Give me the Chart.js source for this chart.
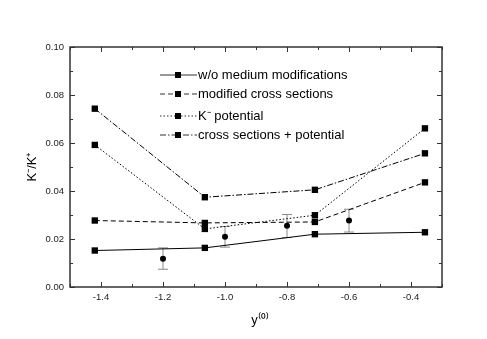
<!DOCTYPE html>
<html>
<head>
<meta charset="utf-8">
<script src="https://cdn.jsdelivr.net/npm/chart.js@4"></script>
<style>
  body { margin: 0; background: #fff; }
  #wrap { width: 487px; height: 339px; }
</style>
</head>
<body>
<div id="wrap"><canvas id="ratioChart"></canvas></div>
<script>
// model rapidity bins
var modelX = [-1.42, -1.065, -0.71, -0.355];
var noMedium = [0.0152, 0.0163, 0.0220, 0.0228];
var crossSec = [0.0277, 0.0267, 0.0271, 0.0436];
var kPotential = [0.0592, 0.0242, 0.0299, 0.0661];
var crossPot = [0.0743, 0.0374, 0.0405, 0.0557];

// data points with error bars
var dataX = [-1.2, -1.0, -0.8, -0.6];
var dataY = [0.0118, 0.0209, 0.0255, 0.0277];
var dataLo = [0.0074, 0.0166, 0.0206, 0.0229];
var dataHi = [0.0163, 0.0252, 0.0302, 0.0324];

var xTicks = [-1.4, -1.2, -1.0, -0.8, -0.6, -0.4];
var yTicks = [0.00, 0.02, 0.04, 0.06, 0.08, 0.10];

var legendNames = ['w/o medium modifications', 'modified cross sections', 'K\u207B potential', 'cross sections + potential'];
var dashes = [[], [5, 3], [1.5, 2], [6, 2, 1.5, 2]];
var font = '"Liberation Sans", Arial, sans-serif';

function pts(xs, ys) {
    return xs.map(function (x, i) { return { x: x, y: ys[i] }; });
}

var lineSeries = [noMedium, crossSec, kPotential, crossPot];
var datasets = lineSeries.map(function (s, i) {
    return {
        label: legendNames[i],
        data: pts(modelX, s),
        showLine: true,
        borderColor: '#000',
        borderWidth: 1,
        borderDash: dashes[i],
        pointStyle: 'rect',
        pointRadius: 4.5,
        pointBackgroundColor: '#000',
        pointBorderColor: '#000',
        pointBorderWidth: 0
    };
});
datasets.push({
    label: 'data',
    data: pts(dataX, dataY),
    showLine: false,
    pointStyle: 'circle',
    pointRadius: 3,
    pointBackgroundColor: '#000',
    pointBorderColor: '#000',
    pointBorderWidth: 0
});

var framePlugin = {
    id: 'frame',
    beforeDatasetsDraw: function (chart) {
        var c = chart.ctx;
        var xs = chart.scales.x, ys = chart.scales.y;
        // error bars
        c.save();
        c.strokeStyle = '#8a8a8a';
        c.lineWidth = 1;
        dataX.forEach(function (x, i) {
            var px = xs.getPixelForValue(x);
            var lo = ys.getPixelForValue(dataLo[i]);
            var hi = ys.getPixelForValue(dataHi[i]);
            c.beginPath();
            c.moveTo(px, lo); c.lineTo(px, hi);
            c.moveTo(px - 5, lo); c.lineTo(px + 5, lo);
            c.moveTo(px - 5, hi); c.lineTo(px + 5, hi);
            c.stroke();
        });
        c.restore();
    },
    afterDraw: function (chart) {
        var c = chart.ctx, a = chart.chartArea;
        var xs = chart.scales.x, ys = chart.scales.y;
        c.save();
        c.strokeStyle = '#333';
        c.lineWidth = 1.5;
        c.strokeRect(a.left, a.top, a.right - a.left, a.bottom - a.top);
        c.lineWidth = 1;
        c.beginPath();
        // x ticks, major every 0.2, minor every 0.1 (inward)
        for (var k = -15; k <= -3; k++) {
            var px = Math.round(xs.getPixelForValue(k / 10)) + 0.5;
            var len = (k % 2 === 0) ? 5 : 3;
            c.moveTo(px, a.bottom); c.lineTo(px, a.bottom - len);
            c.moveTo(px, a.top); c.lineTo(px, a.top + len);
        }
        for (var j = 0; j <= 10; j++) {
            var py = Math.round(ys.getPixelForValue(j / 100)) + 0.5;
            var ln = (j % 2 === 0) ? 5 : 3;
            c.moveTo(a.left, py); c.lineTo(a.left + ln, py);
            c.moveTo(a.right, py); c.lineTo(a.right - ln, py);
        }
        c.stroke();

        // axis titles
        c.fillStyle = '#000';
        c.font = '13px ' + font;
        c.textAlign = 'center';
        c.textBaseline = 'middle';
        c.fillText('y\u207D\u2070\u207E', 260, 320);
        c.save();
        c.translate(32, (a.top + a.bottom) / 2);
        c.rotate(-Math.PI / 2);
        c.fillText('K\u207B/K\u207A', 0, 0);
        c.restore();

        // legend
        var lx = 160, ly = [75, 94, 116, 135];
        c.font = '13px ' + font;
        c.textAlign = 'left';
        legendNames.forEach(function (name, i) {
            c.setLineDash(dashes[i]);
            c.beginPath();
            c.moveTo(lx, ly[i]); c.lineTo(lx + 37, ly[i]);
            c.stroke();
            c.setLineDash([]);
            c.fillRect(lx + 15, ly[i] - 3, 6, 6);
            c.fillText(name, lx + 38, ly[i]);
        });
        c.restore();
    }
};

var ctx = document.getElementById('ratioChart').getContext('2d');
var ratioChart = new Chart(ctx, {
    type: 'scatter',
    data: { datasets: datasets },
    options: {
        responsive: true,
        maintainAspectRatio: false,
        animation: false,
        layout: { padding: { top: 47, right: 45, left: 0, bottom: 0 } },
        plugins: {
            legend: { display: false },
            tooltip: { enabled: false }
        },
        scales: {
            x: {
                type: 'linear',
                min: -1.5,
                max: -0.3,
                afterBuildTicks: function (scale) {
                    scale.ticks = xTicks.map(function (v) { return { value: v }; });
                },
                afterFit: function (scale) { scale.height = 52; },
                grid: { display: false, drawTicks: false },
                border: { display: false },
                ticks: {
                    color: '#222',
                    font: { size: 9.5, family: font },
                    padding: 5,
                    maxRotation: 0,
                    callback: function (v) { return v.toFixed(1); }
                }
            },
            y: {
                type: 'linear',
                min: 0,
                max: 0.1,
                afterBuildTicks: function (scale) {
                    scale.ticks = yTicks.map(function (v) { return { value: v }; });
                },
                afterFit: function (scale) { scale.width = 70; },
                grid: { display: false, drawTicks: false },
                border: { display: false },
                ticks: {
                    color: '#222',
                    font: { size: 9.5, family: font },
                    padding: 6,
                    callback: function (v) { return v.toFixed(2); }
                }
            }
        }
    },
    plugins: [framePlugin]
});
</script>
</body>
</html>
